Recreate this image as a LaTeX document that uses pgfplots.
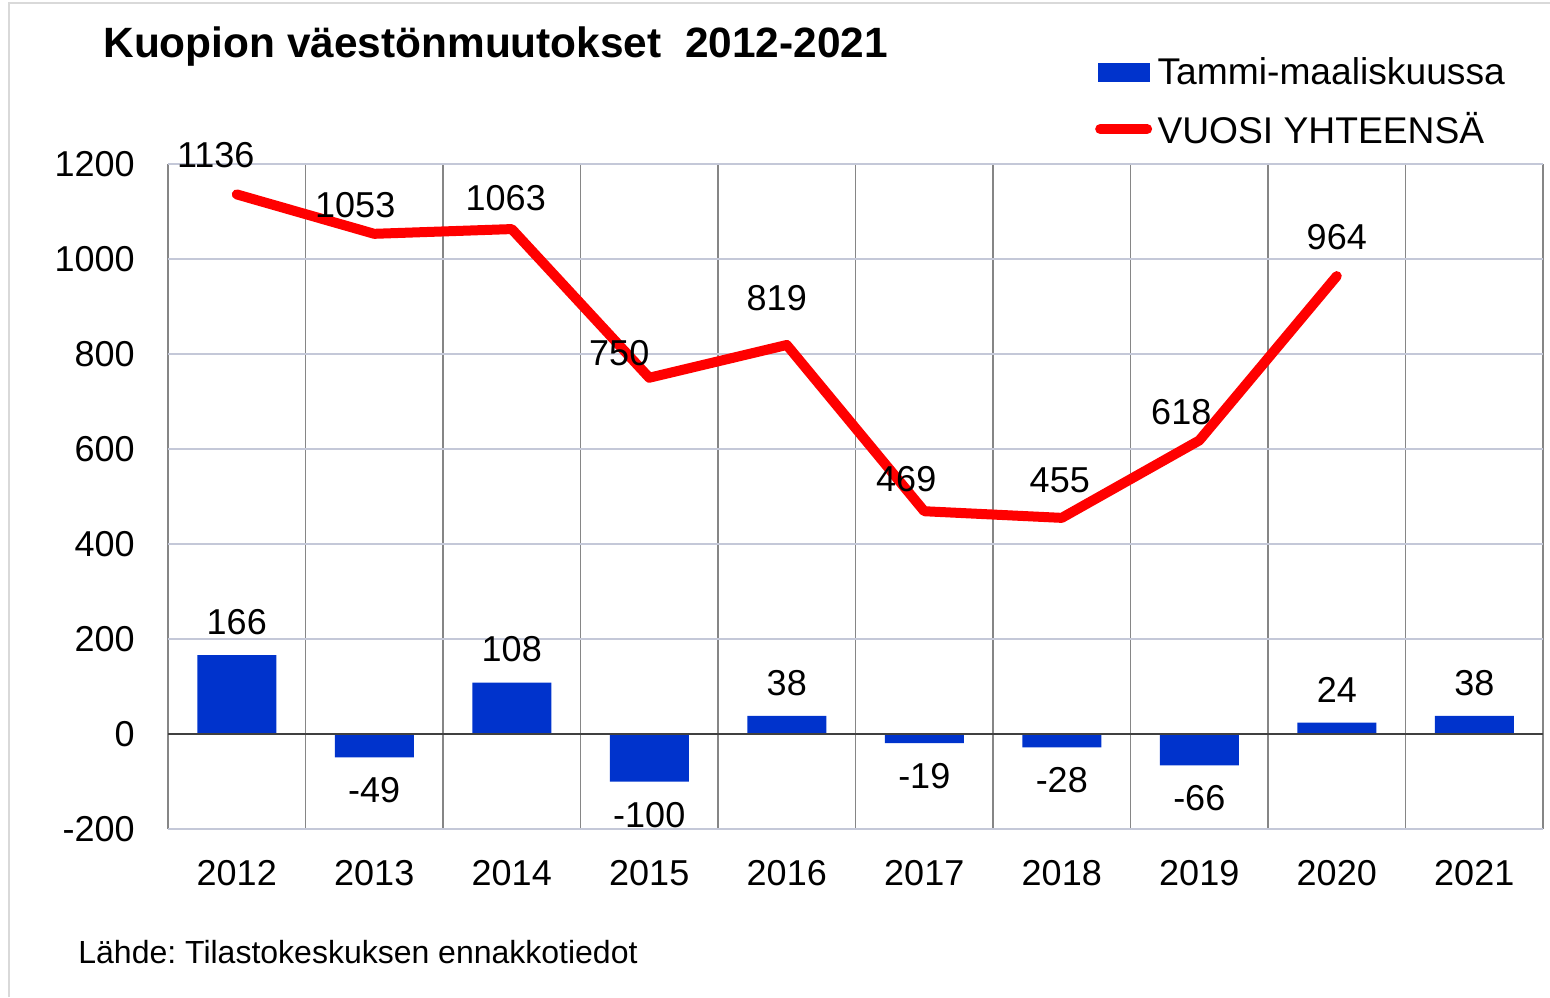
\documentclass[border=0pt]{standalone}
\usepackage{pgfplots}
\pgfplotsset{compat=1.18}
\usepackage{pgfplotstable}
\usepackage{fontspec}
\setmainfont{Liberation Sans}
\frenchspacing
\definecolor{barblue}{RGB}{0,51,204}
\definecolor{hgrid}{RGB}{196,200,216}
\definecolor{vgrid}{RGB}{134,134,134}
\definecolor{framegray}{RGB}{217,217,217}
\tikzset{lbl/.style={anchor=center, inner sep=0pt, text=black, font=\fontsize{18}{21.6}\selectfont}}

\pgfplotstableread{
x y
0 1136
1 1053
2 1063
3 750
4 819
5 469
6 455
7 618
8 964
}\totaldata

\pgfplotstableread{
x y
0 166
1 -49
2 108
3 -100
4 38
5 -19
6 -28
7 -66
8 24
9 38
}\quarterdata

\begin{document}
\begin{tikzpicture}
\path[use as bounding box] (0,0) rectangle (775pt,498.5pt);
\draw[framegray, line width=1pt] (4.5pt,0) -- (4.5pt,497pt) -- (775pt,497pt);
\begin{axis}[
  at={(84pt,84pt)}, anchor=south west,
  scale only axis, width=687.5pt, height=332.5pt,
  xmin=-0.5, xmax=9.5, ymin=-200, ymax=1200,
  clip=false,
  xtick={0,...,9},
  xticklabels={2012,2013,2014,2015,2016,2017,2018,2019,2020,2021},
  minor xtick={-0.5,0.5,...,9.5},
  ytick={-200,0,200,400,600,800,1000,1200},
  yticklabels={-200,0,200,400,600,800,1000,1200},
  ymajorgrids, xminorgrids,
  major grid style={hgrid, line width=1pt},
  minor grid style={vgrid, line width=0.9pt},
  axis line style={draw=none},
  tick style={draw=none},
  major tick length=0pt, minor tick length=0pt,
  tick label style={font=\fontsize{18}{21.6}\selectfont, inner sep=0pt},
  xticklabel style={anchor=north, yshift=-15.5pt},
  yticklabel style={anchor=east, xshift=-16.5pt},
  /pgf/number format/1000 sep={},
  /pgf/number format/assume math mode=true,
  legend style={at={(0.674,1.16)}, anchor=north west, draw=none, fill=none,
    inner sep=0pt, font=\fontsize{18.6}{22}\selectfont, row sep=12pt,
    column sep=2.7pt, nodes={inner sep=0pt}},
  legend cell align=left,
]
\addplot[ybar, bar width=39.5pt, fill=barblue, draw=none,
  nodes near coords, point meta=y,
  nodes near coords align=vertical,
  nodes near coords style={font=\fontsize{18}{21.6}\selectfont, text=black, inner xsep=0pt, inner ysep=10pt},
  legend image code/.code={\fill[barblue] (0pt,-4.75pt) rectangle (26pt,4.75pt);}
] table[x=x, y=y] {\quarterdata};
\addlegendentry{Tammi-maaliskuussa}
\addplot[red, line width=5pt, line join=round, line cap=round,
  legend image code/.code={\draw[red, line width=5pt, line cap=round] (1pt,0pt) -- (24.5pt,0pt);}
] table[x=x, y=y] {\totaldata};
\addlegendentry{VUOSI YHTEENSÄ}
\draw[black!75, line width=0.7pt] (axis cs:-0.5,0) -- (axis cs:9.5,0);
\node[lbl, xshift=-10.5pt, yshift=19.5pt] at (axis cs:0,1136) {1136};
\node[lbl, xshift=-9.5pt, yshift=14.5pt] at (axis cs:1,1053) {1053};
\node[lbl, xshift=-3pt, yshift=15.5pt] at (axis cs:2,1063) {1063};
\node[lbl, xshift=-15pt, yshift=12.5pt] at (axis cs:3,750) {750};
\node[lbl, xshift=-5pt, yshift=23.5pt] at (axis cs:4,819) {819};
\node[lbl, xshift=-9pt, yshift=16pt] at (axis cs:5,469) {469};
\node[lbl, xshift=-1pt, yshift=19pt] at (axis cs:6,455) {455};
\node[lbl, xshift=-9pt, yshift=14pt] at (axis cs:7,618) {618};
\node[lbl, xshift=0pt, yshift=19.5pt] at (axis cs:8,964) {964};
\end{axis}
\node[anchor=base west, inner sep=0pt, font=\bfseries\fontsize{21.2}{26}\selectfont] at (51.5pt,469.5pt) {Kuopion väestönmuutokset\ \ 2012-2021};
\node[anchor=base west, inner sep=0pt, font=\fontsize{16}{19}\selectfont] at (39pt,17pt) {Lähde: Tilastokeskuksen ennakkotiedot};
\end{tikzpicture}
\end{document}
